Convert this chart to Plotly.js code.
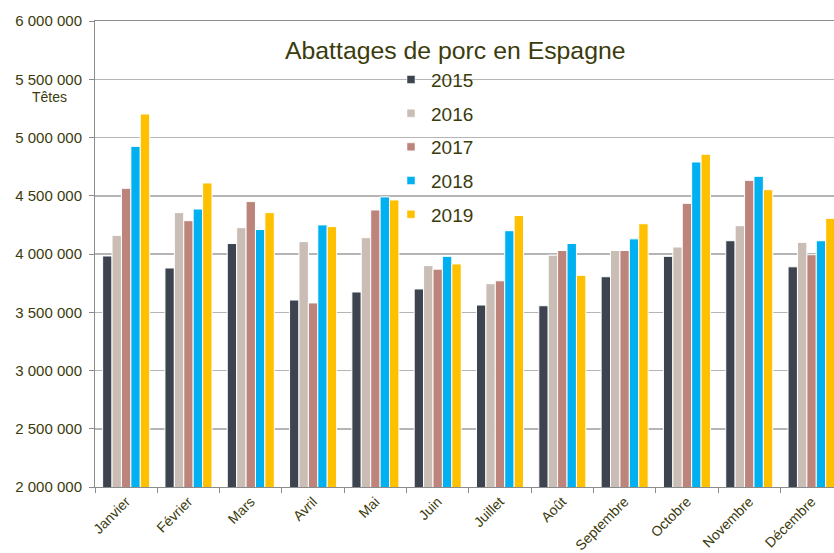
<!DOCTYPE html>
<html>
<head>
<meta charset="utf-8">
<script src="https://cdn.plot.ly/plotly-3.0.1.min.js"></script>
<style>html,body{margin:0;padding:0;background:#fff;}#chart{width:834px;height:553px;}</style>
</head>
<body>
<div id="chart"></div>
<script>
const months = ["Janvier","Février","Mars","Avril","Mai","Juin","Juillet","Août","Septembre","Octobre","Novembre","Décembre"];
const years = ["2015","2016","2017","2018","2019"];
const v2015 = [3983000,3880000,4090000,3605000,3674000,3700000,3562000,3556000,3805000,3980000,4114000,3890000];
const v2016 = [4160000,4355000,4226000,4106000,4140000,3900000,3745000,3990000,4030000,4060000,4243000,4100000];
const v2017 = [4564000,4286000,4450000,3580000,4378000,3870000,3770000,4030000,4030000,4435000,4632000,3994000];
const v2018 = [4924000,4386000,4210000,4250000,4490000,3980000,4200000,4090000,4130000,4790000,4667000,4114000];
const v2019 = [5202000,4610000,4355000,4235000,4464000,3915000,4330000,3817000,4260000,4856000,4552000,4306000];
const yTicks = [2000000,2500000,3000000,3500000,4000000,4500000,5000000,5500000,6000000];

const colors = ["#3d4450","#c9bdb6","#bc847b","#00b0f0","#ffc000"];
const series = [v2015,v2016,v2017,v2018,v2019];
const txt = "#3b3b0c";

const traces = series.map((s,i)=>({
  type:"bar", x:months, y:s, name:years[i], legendgroup:"g"+i, showlegend:false,
  marker:{color:colors[i], line:{color:"#ffffff", width:1}}
}));
// legend entries (small square keys)
series.forEach((s,i)=>traces.push({
  type:"scatter", mode:"markers", x:[null], y:[null], name:years[i], legendgroup:"g"+i,
  showlegend:true, hoverinfo:"skip",
  marker:{symbol:"square", size:8, color:colors[i], line:{color:"#ffffff", width:0.5}}
}));

const layout = {
  width:834, height:553,
  margin:{l:95, r:0, t:21, b:66},
  paper_bgcolor:"#fff", plot_bgcolor:"#fff",
  separators:", ",
  font:{family:"Liberation Sans, Arial, sans-serif", color:txt},
  bargap:0.245, bargroupgap:0,
  showlegend:true,
  legend:{x:(391-95)/739, y:0.915, xanchor:"left", yanchor:"top", bgcolor:"rgba(0,0,0,0)",
          font:{size:19, color:txt}, traceorder:"grouped", tracegroupgap:6},
  xaxis:{type:"category", range:[-0.5, 11.36], showline:true, linecolor:"#8c8c8c", linewidth:1, mirror:true,
         ticks:"outside", ticklen:5, tickcolor:"#8c8c8c", tickson:"boundaries",
         tickangle:-45, tickfont:{size:14, color:txt}, showgrid:false, fixedrange:true},
  yaxis:{range:[2000000,6000000], tickvals:yTicks, tickformat:",d",
         showline:true, linecolor:"#8c8c8c", linewidth:1, ticks:"outside", ticklen:5, tickcolor:"#8c8c8c",
         showgrid:true, gridcolor:"#b5b5b5", gridwidth:1.5, zeroline:false,
         tickfont:{size:15, color:txt}, ticklabelstandoff:4},
  annotations:[
    {text:"Abattages de porc en Espagne", xref:"paper", yref:"paper", x:(455-95)/739, y:(487-50)/466,
     xanchor:"center", yanchor:"middle", showarrow:false, font:{size:24.8, color:txt}},
    {text:"Têtes", xref:"paper", yref:"paper", x:(49.5-95)/739, y:(487-97)/466,
     xanchor:"center", yanchor:"middle", showarrow:false, font:{size:14, color:txt}}
  ]
};

Plotly.newPlot("chart", traces, layout, {displayModeBar:false, staticPlot:true});
</script>
</body>
</html>
